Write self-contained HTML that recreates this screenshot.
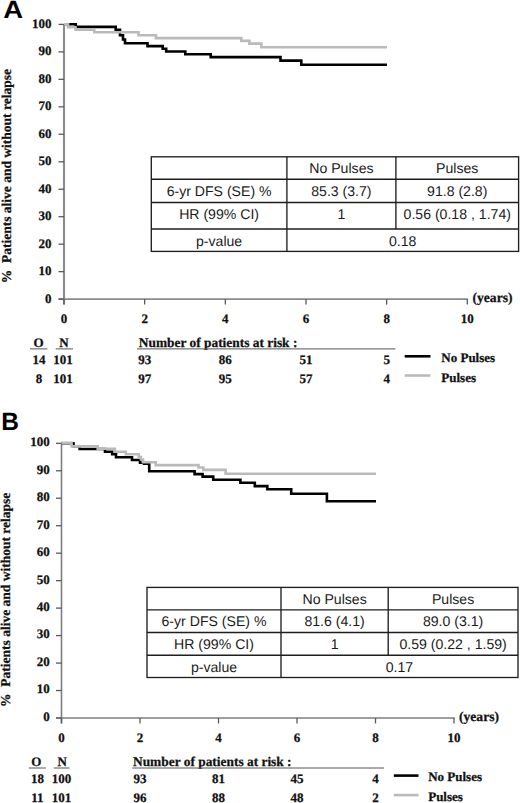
<!DOCTYPE html>
<html><head><meta charset="utf-8"><style>
html,body{margin:0;padding:0;background:#fff;}
svg{display:block;text-rendering:geometricPrecision;}
.tb{font-family:"Liberation Serif", serif;font-weight:bold;font-size:13px;fill:#111;stroke:#111;stroke-width:0.25px;}
.ts{font-family:"Liberation Sans", sans-serif;font-size:14.1px;fill:#1a1a1a;}
.let{font-family:"Liberation Sans", sans-serif;font-weight:bold;font-size:25px;fill:#000;}
</style></head><body>
<svg width="520" height="803" viewBox="0 0 520 803">
<rect width="520" height="803" fill="#fff"/>
<line x1="64" y1="24.4" x2="64" y2="304.6" stroke="#8a8a8a" stroke-width="2.1"/>
<line x1="58.5" y1="299.1" x2="468.09999999999997" y2="299.1" stroke="#8a8a8a" stroke-width="1.6"/>
<line x1="58.5" y1="24.40" x2="64" y2="24.40" stroke="#5a5a5a" stroke-width="1.3"/>
<text x="51.5" y="28.00" text-anchor="end" class="tb">100</text>
<line x1="58.5" y1="51.87" x2="64" y2="51.87" stroke="#5a5a5a" stroke-width="1.3"/>
<text x="51.5" y="55.47" text-anchor="end" class="tb">90</text>
<line x1="58.5" y1="79.34" x2="64" y2="79.34" stroke="#5a5a5a" stroke-width="1.3"/>
<text x="51.5" y="82.94" text-anchor="end" class="tb">80</text>
<line x1="58.5" y1="106.81" x2="64" y2="106.81" stroke="#5a5a5a" stroke-width="1.3"/>
<text x="51.5" y="110.41" text-anchor="end" class="tb">70</text>
<line x1="58.5" y1="134.28" x2="64" y2="134.28" stroke="#5a5a5a" stroke-width="1.3"/>
<text x="51.5" y="137.88" text-anchor="end" class="tb">60</text>
<line x1="58.5" y1="161.75" x2="64" y2="161.75" stroke="#5a5a5a" stroke-width="1.3"/>
<text x="51.5" y="165.35" text-anchor="end" class="tb">50</text>
<line x1="58.5" y1="189.22" x2="64" y2="189.22" stroke="#5a5a5a" stroke-width="1.3"/>
<text x="51.5" y="192.82" text-anchor="end" class="tb">40</text>
<line x1="58.5" y1="216.69" x2="64" y2="216.69" stroke="#5a5a5a" stroke-width="1.3"/>
<text x="51.5" y="220.29" text-anchor="end" class="tb">30</text>
<line x1="58.5" y1="244.16" x2="64" y2="244.16" stroke="#5a5a5a" stroke-width="1.3"/>
<text x="51.5" y="247.76" text-anchor="end" class="tb">20</text>
<line x1="58.5" y1="271.63" x2="64" y2="271.63" stroke="#5a5a5a" stroke-width="1.3"/>
<text x="51.5" y="275.23" text-anchor="end" class="tb">10</text>
<line x1="58.5" y1="299.10" x2="64" y2="299.10" stroke="#5a5a5a" stroke-width="1.3"/>
<text x="51.5" y="302.70" text-anchor="end" class="tb">0</text>
<line x1="64.00" y1="299.1" x2="64.00" y2="304.6" stroke="#5a5a5a" stroke-width="1.3"/>
<text x="64.00" y="323.2" text-anchor="middle" class="tb">0</text>
<line x1="144.66" y1="299.1" x2="144.66" y2="304.6" stroke="#5a5a5a" stroke-width="1.3"/>
<text x="144.66" y="323.2" text-anchor="middle" class="tb">2</text>
<line x1="225.32" y1="299.1" x2="225.32" y2="304.6" stroke="#5a5a5a" stroke-width="1.3"/>
<text x="225.32" y="323.2" text-anchor="middle" class="tb">4</text>
<line x1="305.98" y1="299.1" x2="305.98" y2="304.6" stroke="#5a5a5a" stroke-width="1.3"/>
<text x="305.98" y="323.2" text-anchor="middle" class="tb">6</text>
<line x1="386.64" y1="299.1" x2="386.64" y2="304.6" stroke="#5a5a5a" stroke-width="1.3"/>
<text x="386.64" y="323.2" text-anchor="middle" class="tb">8</text>
<line x1="467.30" y1="299.1" x2="467.30" y2="304.6" stroke="#5a5a5a" stroke-width="1.3"/>
<text x="467.30" y="323.2" text-anchor="middle" class="tb">10</text>
<text x="472.5" y="302.2" class="tb" style="font-size:13.6px">(years)</text>
<text transform="translate(10.6,176.2) rotate(-90)" text-anchor="middle" class="tb" style="font-size:13.5px;white-space:pre">%  Patients alive and without relapse</text>
<text transform="translate(3.3,17.9) scale(1.1,1)" class="let">A</text>
<polyline points="64.0,24.3 75.8,24.3 75.8,26.9 115.7,26.9 115.7,29.8 120.0,29.8 120.0,35.3 123.0,35.3 123.0,39.5 125.0,39.5 125.0,43.2 147.5,43.2 147.5,46.1 162.7,46.1 162.7,48.7 166.2,48.7 166.2,51.5 185.3,51.5 185.3,54.2 210.7,54.2 210.7,57.1 280.5,57.1 280.5,60.6 301.3,60.6 301.3,64.8 387.0,64.8" fill="none" stroke="#000" stroke-width="2.6" stroke-linejoin="miter"/>
<polyline points="64.0,24.4 68.0,24.4 68.0,27.2 75.5,27.2 75.5,29.8 94.3,29.8 94.3,32.3 138.5,32.3 138.5,35.2 156.0,35.2 156.0,38.1 241.3,38.1 241.3,40.9 249.4,40.9 249.4,43.6 261.4,43.6 261.4,47.2 387.0,47.2" fill="none" stroke="#bababa" stroke-width="2.6" stroke-linejoin="miter"/>
<rect x="151.3" y="156.8" width="367.3" height="94.6" fill="#fff" stroke="#1e1e1e" stroke-width="1.35"/>
<line x1="151.3" y1="179.2" x2="518.6" y2="179.2" stroke="#1e1e1e" stroke-width="1.35"/>
<line x1="151.3" y1="202.5" x2="518.6" y2="202.5" stroke="#1e1e1e" stroke-width="1.35"/>
<line x1="151.3" y1="229" x2="518.6" y2="229" stroke="#1e1e1e" stroke-width="1.35"/>
<line x1="286.9" y1="156.8" x2="286.9" y2="251.4" stroke="#1e1e1e" stroke-width="1.35"/>
<line x1="395.9" y1="156.8" x2="395.9" y2="229" stroke="#1e1e1e" stroke-width="1.35"/>
<text x="341.40" y="173.0" text-anchor="middle" class="ts">No Pulses</text>
<text x="457.25" y="173.0" text-anchor="middle" class="ts">Pulses</text>
<text x="219.10" y="196.0" text-anchor="middle" class="ts">6-yr DFS (SE) %</text>
<text x="341.40" y="196.0" text-anchor="middle" class="ts">85.3 (3.7)</text>
<text x="457.25" y="196.0" text-anchor="middle" class="ts">91.8 (2.8)</text>
<text x="219.10" y="218.6" text-anchor="middle" class="ts">HR (99% CI)</text>
<text x="341.40" y="218.6" text-anchor="middle" class="ts">1</text>
<text x="457.25" y="218.6" text-anchor="middle" class="ts">0.56 (0.18 , 1.74)</text>
<text x="219.10" y="245.9" text-anchor="middle" class="ts">p-value</text>
<text x="402.75" y="245.9" text-anchor="middle" class="ts">0.18</text>
<text x="38.6" y="347.2" text-anchor="middle" class="tb">O</text>
<text x="64.0" y="347.2" text-anchor="middle" class="tb">N</text>
<line x1="30" y1="348.9" x2="47.4" y2="348.9" stroke="#555" stroke-width="1"/>
<line x1="55.7" y1="348.9" x2="73" y2="348.9" stroke="#555" stroke-width="1"/>
<text x="138.8" y="347.2" class="tb" style="font-size:13.4px">Number of patients at risk :</text>
<line x1="137" y1="348.9" x2="395.4" y2="348.9" stroke="#555" stroke-width="1"/>
<text x="38.9" y="363.8" text-anchor="middle" class="tb">14</text>
<text x="63.1" y="363.8" text-anchor="middle" class="tb">101</text>
<text x="144.66" y="363.8" text-anchor="middle" class="tb">93</text>
<text x="225.32" y="363.8" text-anchor="middle" class="tb">86</text>
<text x="305.98" y="363.8" text-anchor="middle" class="tb">51</text>
<text x="386.64" y="363.8" text-anchor="middle" class="tb">5</text>
<text x="38.9" y="383.2" text-anchor="middle" class="tb">8</text>
<text x="63.1" y="383.2" text-anchor="middle" class="tb">101</text>
<text x="144.66" y="383.2" text-anchor="middle" class="tb">97</text>
<text x="225.32" y="383.2" text-anchor="middle" class="tb">95</text>
<text x="305.98" y="383.2" text-anchor="middle" class="tb">57</text>
<text x="386.64" y="383.2" text-anchor="middle" class="tb">4</text>
<line x1="404.7" y1="356.3" x2="430.5" y2="356.3" stroke="#000" stroke-width="2.6"/>
<line x1="404.7" y1="375.5" x2="430.5" y2="375.5" stroke="#bababa" stroke-width="2.6"/>
<text x="441.3" y="362.1" class="tb">No Pulses</text>
<text x="441.3" y="381.5" class="tb">Pulses</text>
<line x1="61.5" y1="443.3" x2="61.5" y2="723.5" stroke="#7e7e7e" stroke-width="1.6"/>
<line x1="56.0" y1="718" x2="454.8" y2="718" stroke="#7e7e7e" stroke-width="1.6"/>
<line x1="56.0" y1="443.30" x2="61.5" y2="443.30" stroke="#5a5a5a" stroke-width="1.3"/>
<text x="49.8" y="446.20" text-anchor="end" class="tb">100</text>
<line x1="56.0" y1="470.77" x2="61.5" y2="470.77" stroke="#5a5a5a" stroke-width="1.3"/>
<text x="49.8" y="473.67" text-anchor="end" class="tb">90</text>
<line x1="56.0" y1="498.24" x2="61.5" y2="498.24" stroke="#5a5a5a" stroke-width="1.3"/>
<text x="49.8" y="501.14" text-anchor="end" class="tb">80</text>
<line x1="56.0" y1="525.71" x2="61.5" y2="525.71" stroke="#5a5a5a" stroke-width="1.3"/>
<text x="49.8" y="528.61" text-anchor="end" class="tb">70</text>
<line x1="56.0" y1="553.18" x2="61.5" y2="553.18" stroke="#5a5a5a" stroke-width="1.3"/>
<text x="49.8" y="556.08" text-anchor="end" class="tb">60</text>
<line x1="56.0" y1="580.65" x2="61.5" y2="580.65" stroke="#5a5a5a" stroke-width="1.3"/>
<text x="49.8" y="583.55" text-anchor="end" class="tb">50</text>
<line x1="56.0" y1="608.12" x2="61.5" y2="608.12" stroke="#5a5a5a" stroke-width="1.3"/>
<text x="49.8" y="611.02" text-anchor="end" class="tb">40</text>
<line x1="56.0" y1="635.59" x2="61.5" y2="635.59" stroke="#5a5a5a" stroke-width="1.3"/>
<text x="49.8" y="638.49" text-anchor="end" class="tb">30</text>
<line x1="56.0" y1="663.06" x2="61.5" y2="663.06" stroke="#5a5a5a" stroke-width="1.3"/>
<text x="49.8" y="665.96" text-anchor="end" class="tb">20</text>
<line x1="56.0" y1="690.53" x2="61.5" y2="690.53" stroke="#5a5a5a" stroke-width="1.3"/>
<text x="49.8" y="693.43" text-anchor="end" class="tb">10</text>
<line x1="56.0" y1="718.00" x2="61.5" y2="718.00" stroke="#5a5a5a" stroke-width="1.3"/>
<text x="49.8" y="720.90" text-anchor="end" class="tb">0</text>
<line x1="61.50" y1="718" x2="61.50" y2="723.5" stroke="#5a5a5a" stroke-width="1.3"/>
<text x="61.50" y="742.0" text-anchor="middle" class="tb">0</text>
<line x1="140.00" y1="718" x2="140.00" y2="723.5" stroke="#5a5a5a" stroke-width="1.3"/>
<text x="140.00" y="742.0" text-anchor="middle" class="tb">2</text>
<line x1="218.50" y1="718" x2="218.50" y2="723.5" stroke="#5a5a5a" stroke-width="1.3"/>
<text x="218.50" y="742.0" text-anchor="middle" class="tb">4</text>
<line x1="297.00" y1="718" x2="297.00" y2="723.5" stroke="#5a5a5a" stroke-width="1.3"/>
<text x="297.00" y="742.0" text-anchor="middle" class="tb">6</text>
<line x1="375.50" y1="718" x2="375.50" y2="723.5" stroke="#5a5a5a" stroke-width="1.3"/>
<text x="375.50" y="742.0" text-anchor="middle" class="tb">8</text>
<line x1="454.00" y1="718" x2="454.00" y2="723.5" stroke="#5a5a5a" stroke-width="1.3"/>
<text x="454.00" y="742.0" text-anchor="middle" class="tb">10</text>
<text x="459.0" y="721.0" class="tb" style="font-size:13.6px">(years)</text>
<text transform="translate(9.6,599.8) rotate(-90)" text-anchor="middle" class="tb" style="font-size:13.5px;white-space:pre">%  Patients alive and without relapse</text>
<text transform="translate(1.2,429.6) scale(0.98,1)" class="let">B</text>
<polyline points="61.3,443.2 73.5,443.2 73.5,446.3 79.6,446.3 79.6,449.0 105.0,449.0 105.0,451.8 112.2,451.8 112.2,454.2 116.0,454.2 116.0,457.2 132.0,457.2 132.0,460.0 140.0,460.0 140.0,462.7 144.0,462.7 144.0,463.8 149.2,463.8 149.2,471.2 194.6,471.2 194.6,474.1 202.6,474.1 202.6,476.6 213.2,476.6 213.2,479.8 240.4,479.8 240.4,482.8 254.8,482.8 254.8,486.1 267.3,486.1 267.3,489.2 291.2,489.2 291.2,493.8 326.9,493.8 326.9,501.3 376.0,501.3" fill="none" stroke="#000" stroke-width="2.6" stroke-linejoin="miter"/>
<polyline points="61.3,442.9 71.6,442.9 71.6,446.4 97.7,446.4 97.7,448.7 114.9,448.7 114.9,451.7 125.8,451.7 125.8,454.3 138.8,454.3 138.8,457.0 141.0,457.0 141.0,459.5 143.0,459.5 143.0,462.2 155.8,462.2 155.8,465.1 198.5,465.1 198.5,467.5 203.3,467.5 203.3,469.9 225.6,469.9 225.6,473.8 376.0,473.8" fill="none" stroke="#bababa" stroke-width="2.6" stroke-linejoin="miter"/>
<rect x="147" y="587.4" width="371" height="90.10000000000002" fill="#fff" stroke="#1e1e1e" stroke-width="1.35"/>
<line x1="147" y1="609.8" x2="518" y2="609.8" stroke="#1e1e1e" stroke-width="1.35"/>
<line x1="147" y1="632.5" x2="518" y2="632.5" stroke="#1e1e1e" stroke-width="1.35"/>
<line x1="147" y1="655.2" x2="518" y2="655.2" stroke="#1e1e1e" stroke-width="1.35"/>
<line x1="281" y1="587.4" x2="281" y2="677.5" stroke="#1e1e1e" stroke-width="1.35"/>
<line x1="388.2" y1="587.4" x2="388.2" y2="655.2" stroke="#1e1e1e" stroke-width="1.35"/>
<text x="334.60" y="603.7" text-anchor="middle" class="ts">No Pulses</text>
<text x="453.10" y="603.7" text-anchor="middle" class="ts">Pulses</text>
<text x="214.00" y="626.4" text-anchor="middle" class="ts">6-yr DFS (SE) %</text>
<text x="334.60" y="626.4" text-anchor="middle" class="ts">81.6 (4.1)</text>
<text x="453.10" y="626.4" text-anchor="middle" class="ts">89.0 (3.1)</text>
<text x="214.00" y="649.2" text-anchor="middle" class="ts">HR (99% CI)</text>
<text x="334.60" y="649.2" text-anchor="middle" class="ts">1</text>
<text x="453.10" y="649.2" text-anchor="middle" class="ts">0.59 (0.22 , 1.59)</text>
<text x="214.00" y="671.6" text-anchor="middle" class="ts">p-value</text>
<text x="399.50" y="671.6" text-anchor="middle" class="ts">0.17</text>
<text x="36.3" y="766.2" text-anchor="middle" class="tb">O</text>
<text x="62.2" y="766.2" text-anchor="middle" class="tb">N</text>
<line x1="28.8" y1="768.0" x2="45.8" y2="768.0" stroke="#555" stroke-width="1"/>
<line x1="53.8" y1="768.0" x2="69.5" y2="768.0" stroke="#555" stroke-width="1"/>
<text x="133.0" y="766.2" class="tb" style="font-size:13.4px">Number of patients at risk :</text>
<line x1="132.2" y1="768.0" x2="384" y2="768.0" stroke="#555" stroke-width="1"/>
<text x="37.4" y="783.0" text-anchor="middle" class="tb">18</text>
<text x="61.5" y="783.0" text-anchor="middle" class="tb">100</text>
<text x="140.00" y="783.0" text-anchor="middle" class="tb">93</text>
<text x="218.50" y="783.0" text-anchor="middle" class="tb">81</text>
<text x="297.00" y="783.0" text-anchor="middle" class="tb">45</text>
<text x="375.50" y="783.0" text-anchor="middle" class="tb">4</text>
<text x="37.4" y="802.2" text-anchor="middle" class="tb">11</text>
<text x="61.5" y="802.2" text-anchor="middle" class="tb">101</text>
<text x="140.00" y="802.2" text-anchor="middle" class="tb">96</text>
<text x="218.50" y="802.2" text-anchor="middle" class="tb">88</text>
<text x="297.00" y="802.2" text-anchor="middle" class="tb">48</text>
<text x="375.50" y="802.2" text-anchor="middle" class="tb">2</text>
<line x1="393.8" y1="775.6" x2="418.5" y2="775.6" stroke="#000" stroke-width="2.6"/>
<line x1="393.8" y1="795.1" x2="418.5" y2="795.1" stroke="#bababa" stroke-width="2.6"/>
<text x="428.2" y="781.4" class="tb">No Pulses</text>
<text x="428.2" y="800.6" class="tb">Pulses</text>
</svg>
</body></html>
